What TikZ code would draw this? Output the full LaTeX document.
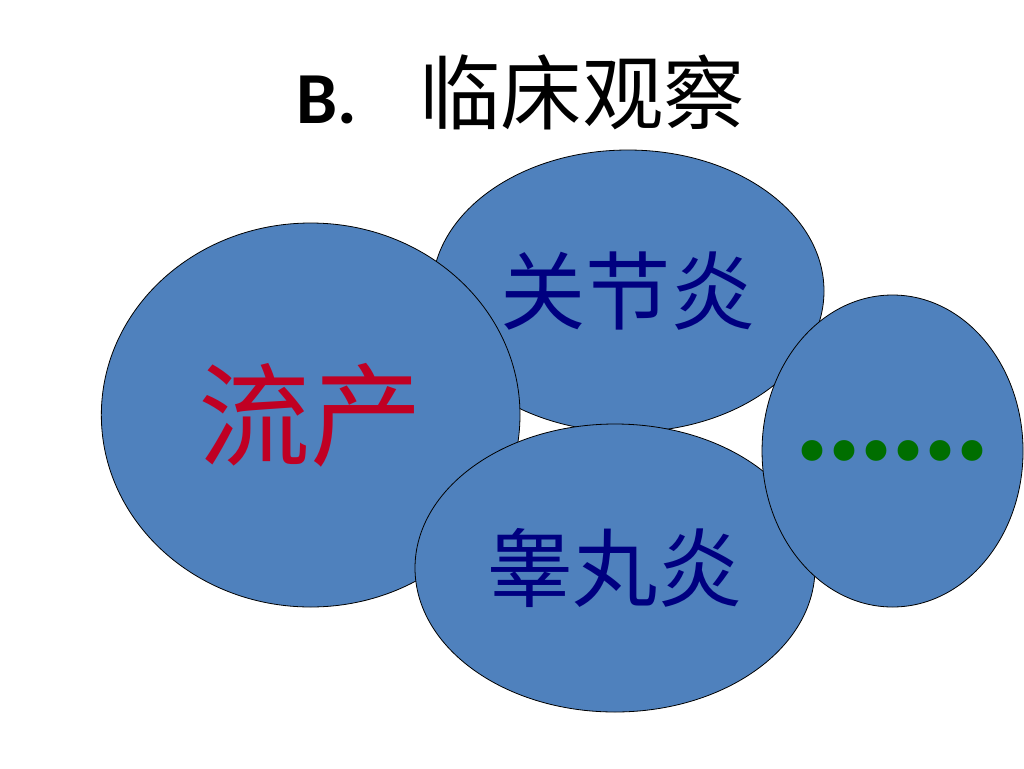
\documentclass[tikz,border=0pt]{standalone}
\usepackage{fontspec}
\setmainfont{Liberation Serif}
\newfontfamily\cjk{Noto Sans CJK SC}
\newfontfamily\titlefont{Carlito}
\usetikzlibrary{positioning,shapes.geometric}

\definecolor{blobblue}{RGB}{79,129,189}
\definecolor{darkred}{RGB}{192,0,35}
\definecolor{navytext}{RGB}{0,0,128}
\definecolor{dotgreen}{RGB}{0,110,0}

\begin{document}
\begin{tikzpicture}[x=0.75pt, y=-0.75pt,
                    blob/.style={ellipse,draw=black,line width=0.6pt,fill=blobblue,inner sep=0pt},
                    small text/.style={font=\cjk\fontsize{64}{70}\selectfont,text=navytext}]

  \useasboundingbox (0,0) rectangle (1024,768);

  \node[anchor=base west, inner sep=0pt] (title) at (296,123)
    {{\titlefont\bfseries\fontsize{55}{60}\selectfont B.}\hspace{47pt}{\cjk\fontsize{61}{66}\selectfont 临床观察}};

  \node[blob,small text,minimum width=294pt,minimum height=211.5pt] (arthritis) at (628,291) {关节炎};
  \node[blob,minimum width=314pt,minimum height=288pt,
        font=\cjk\fontsize{84}{90}\selectfont,text=darkred] (abortion)
        [left of=arthritis, node distance=238pt, yshift=-93pt] {流产};
    \node[blob,small text,minimum width=300pt,minimum height=216pt] (orchitis)
          [below of=arthritis, node distance=207.75pt, xshift=-9.75pt] {睾丸炎};
      \node[blob,minimum width=195.75pt,minimum height=234pt,
            font=\bfseries\fontsize{96}{100}\selectfont,text=dotgreen] (more)
            [right of=arthritis, node distance=198.4pt, yshift=-120pt] {\makebox[0pt]{......}};

\end{tikzpicture}
\end{document}
